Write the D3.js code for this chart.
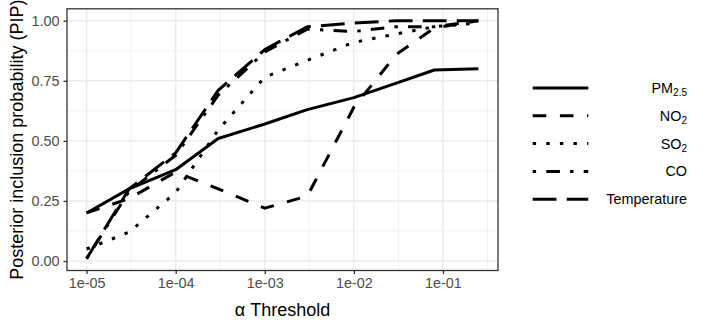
<!DOCTYPE html>
<html>
<head>
<meta charset="utf-8">
<script src="https://cdn.jsdelivr.net/npm/d3@7"></script>
<style>
  html, body { margin: 0; padding: 0; background: #fff; }
  svg { display: block; font-family: "Liberation Sans", Arial, Helvetica, sans-serif; }
</style>
</head>
<body>
<svg id="chart" width="706" height="324"></svg>
<script>
// ---- data ----
const thresholds = [1e-5, 3e-5, 1e-4, 3e-4, 1e-3, 3e-3, 1e-2, 3e-2, 8e-2, 0.25];
const pm25  = [0.20, 0.30, 0.38, 0.51, 0.57, 0.63, 0.68, 0.74, 0.795, 0.80];
const no2   = [0.20, 0.26, 0.37, 0.30, 0.22, 0.27, 0.64, 0.86, 0.97, 1.00];
const so2   = [0.05, 0.12, 0.285, 0.545, 0.765, 0.835, 0.91, 0.945, 0.975, 0.99];
const co    = [0.01, 0.29, 0.44, 0.69, 0.87, 0.965, 0.955, 0.975, 0.975, 1.00];
const temperature = [0.01, 0.30, 0.45, 0.71, 0.88, 0.975, 0.99, 1.00, 1.00, 1.00];
const seriesNames = ["PM2.5", "NO2", "SO2", "CO", "Temperature"];
const xTicks = [1e-5, 1e-4, 1e-3, 1e-2, 1e-1];
const xTickLabels = ["1e-05", "1e-04", "1e-03", "1e-02", "1e-01"];
const yTicks = [0, 0.25, 0.5, 0.75, 1.0];
const yTickLabels = ["0.00", "0.25", "0.50", "0.75", "1.00"];

const seriesValues = [pm25, no2, so2, co, temperature];
const u = 3.4;
const dashes = ["none", [4*u,4*u].join(","), [u,3*u].join(","), [u,3*u,4*u,3*u].join(","), [7*u,3*u].join(",")];

const svg = d3.select("#chart");
const panel = {left: 67, right: 498, top: 8.8, bottom: 270.5};

// x scale (log) with 5% expansion in log space
const lx = [Math.log10(d3.min(thresholds)), Math.log10(d3.max(thresholds))];
const lxPad = (lx[1]-lx[0])*0.05;
const x = d3.scaleLog().domain([Math.pow(10, lx[0]-lxPad), Math.pow(10, lx[1]+lxPad)]).range([panel.left, panel.right]);
const allY = seriesValues.flat();
const yExt = d3.extent(allY);
const yPad = (yExt[1]-yExt[0])*0.05;
const y = d3.scaleLinear().domain([yExt[0]-yPad, yExt[1]+yPad]).range([panel.bottom, panel.top]);

// grid
const g = svg.append("g");
const minorX = xTicks.map(t => t*Math.sqrt(10)).concat([xTicks[0]/Math.sqrt(10)])
  .filter(v => x(v) >= panel.left && x(v) <= panel.right);
const minorY = [0.125, 0.375, 0.625, 0.875];
g.selectAll(".mx").data(minorX).join("line")
  .attr("x1", d => x(d)).attr("x2", d => x(d)).attr("y1", panel.top).attr("y2", panel.bottom)
  .attr("stroke", "#EBEBEB").attr("stroke-width", 0.7);
g.selectAll(".my").data(minorY).join("line")
  .attr("y1", d => y(d)).attr("y2", d => y(d)).attr("x1", panel.left).attr("x2", panel.right)
  .attr("stroke", "#EBEBEB").attr("stroke-width", 0.7);
g.selectAll(".Mx").data(xTicks).join("line")
  .attr("x1", d => x(d)).attr("x2", d => x(d)).attr("y1", panel.top).attr("y2", panel.bottom)
  .attr("stroke", "#EBEBEB").attr("stroke-width", 1.4);
g.selectAll(".My").data(yTicks).join("line")
  .attr("y1", d => y(d)).attr("y2", d => y(d)).attr("x1", panel.left).attr("x2", panel.right)
  .attr("stroke", "#EBEBEB").attr("stroke-width", 1.4);

// lines
const line = d3.line().x(d => x(d[0])).y(d => y(d[1]));
const clip = svg.append("clipPath").attr("id", "clp").append("rect")
  .attr("x", panel.left).attr("y", panel.top).attr("width", panel.right-panel.left).attr("height", panel.bottom-panel.top);
seriesValues.forEach((vals, i) => {
  svg.append("path")
    .attr("d", line(thresholds.map((t, j) => [t, vals[j]])))
    .attr("fill", "none").attr("stroke", "#000").attr("stroke-width", 3)
    .attr("stroke-linecap", "butt").attr("stroke-linejoin", "round")
    .attr("stroke-dasharray", dashes[i])
    .attr("clip-path", "url(#clp)");
});

// panel border
svg.append("rect").attr("x", panel.left).attr("y", panel.top)
  .attr("width", panel.right-panel.left).attr("height", panel.bottom-panel.top)
  .attr("fill", "none").attr("stroke", "#333333").attr("stroke-width", 1.3);

// axes
const xAxis = d3.axisBottom(x).tickValues(xTicks).tickFormat((d, i) => xTickLabels[i]).tickSize(3.5).tickPadding(4);
const xg = svg.append("g").attr("transform", `translate(0,${panel.bottom})`).call(xAxis);
xg.select(".domain").remove();
xg.selectAll(".tick line").attr("stroke", "#333333").attr("stroke-width", 1.3);
xg.selectAll(".tick text").attr("fill", "#4D4D4D").attr("font-size", "14.4px")
  .attr("font-family", "Liberation Sans, Arial, sans-serif");

const yAxis = d3.axisLeft(y).tickValues(yTicks).tickFormat((d, i) => yTickLabels[i]).tickSize(3.5).tickPadding(4);
const yg = svg.append("g").attr("transform", `translate(${panel.left},0)`).call(yAxis);
yg.select(".domain").remove();
yg.selectAll(".tick line").attr("stroke", "#333333").attr("stroke-width", 1.3);
yg.selectAll(".tick text").attr("fill", "#4D4D4D").attr("font-size", "14.4px")
  .attr("font-family", "Liberation Sans, Arial, sans-serif");

// axis titles
svg.append("text").attr("x", (panel.left+panel.right)/2).attr("y", 316)
  .attr("text-anchor", "middle").attr("font-size", "18px").attr("fill", "#000")
  .text("α Threshold");
svg.append("text")
  .attr("transform", `translate(23,${(panel.top+panel.bottom)/2}) rotate(-90)`)
  .attr("text-anchor", "middle").attr("font-size", "18px").attr("fill", "#000")
  .text("Posterior inclusion probability (PIP)");

// legend
const legY0 = 88, legDy = 27.8;
const leg = svg.append("g");
seriesNames.forEach((name, i) => {
  const cy = legY0 + i*legDy;
  leg.append("line").attr("x1", 532.7).attr("x2", 588.3).attr("y1", cy).attr("y2", cy)
    .attr("stroke", "#000").attr("stroke-width", 3).attr("stroke-linecap", "butt")
    .attr("stroke-dasharray", dashes[i]);
  const t = leg.append("text").attr("x", 687).attr("y", cy + 5)
    .attr("text-anchor", "end").attr("font-size", "14.4px").attr("fill", "#000");
  const m = name.match(/^([A-Za-z]+)([0-9.]+)$/);
  if (m) {
    t.append("tspan").text(m[1]);
    t.append("tspan").attr("font-size", "10px").attr("dy", 3).text(m[2]);
  } else {
    t.text(name);
  }
});
</script>
</body>
</html>
